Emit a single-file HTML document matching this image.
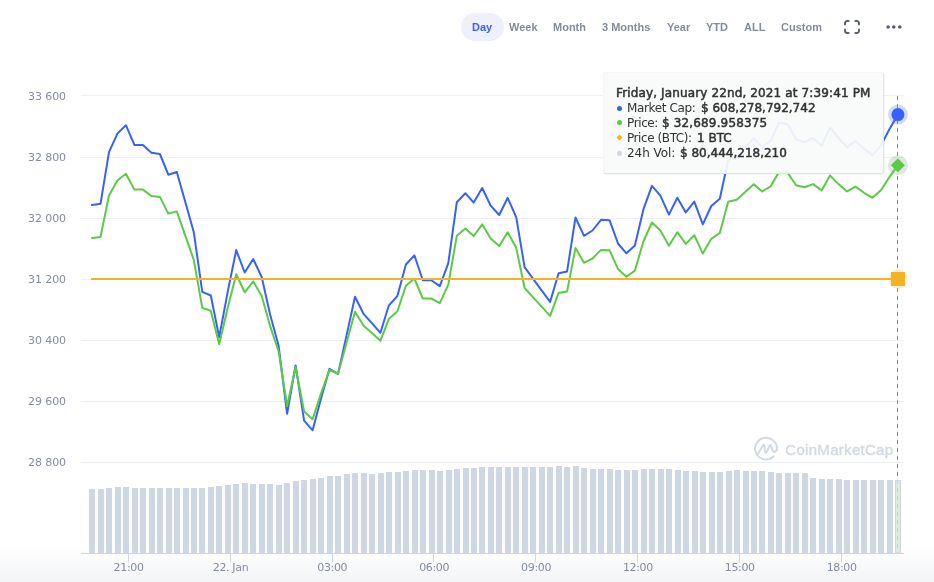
<!DOCTYPE html>
<html><head><meta charset="utf-8"><title>Chart</title>
<style>
html,body{margin:0;padding:0;background:#fff;}
body{width:934px;height:582px;position:relative;overflow:hidden;}
.btn,.tt,.chart{will-change:transform;}
.chart{position:absolute;left:0;top:0;}
.btn{position:absolute;top:19px;font-family:"Liberation Sans",Arial,sans-serif;font-weight:700;font-size:11px;line-height:16px;color:#848b9b;white-space:nowrap;}
.pill{position:absolute;left:461px;top:13px;width:43px;height:28px;border-radius:14px;background:#eef1fb;}
.tip{position:absolute;left:603px;top:72px;width:279px;height:100px;background:rgba(249,250,250,0.93);border:1px solid;border-color:#f4f5f4 #e0e7e2 #dce4de #f4f5f4;border-radius:3px;box-shadow:1px 1px 1px rgba(0,0,0,0.035);}
.tt{position:absolute;left:616px;font-family:"DejaVu Sans",sans-serif;font-size:12px;color:#333;white-space:nowrap;line-height:15px;}
.tt b{font-weight:400;font-family:"DejaVu Sans",sans-serif;-webkit-text-stroke:0.5px #333;}
.rg{letter-spacing:-0.25px;}
.dot{position:absolute;width:5px;height:5px;border-radius:50%;}
</style></head>
<body>
<svg class="chart" width="934" height="582" viewBox="0 0 934 582"><defs><linearGradient id="bg" x1="0" y1="0" x2="0" y2="1"><stop offset="0" stop-color="#ffffff"/><stop offset="1" stop-color="#f3f4f6"/></linearGradient></defs><rect x="0" y="545" width="934" height="37" fill="url(#bg)"/><g fill="#edf0f6"><rect x="81" y="95" width="823" height="1"/><rect x="81" y="157" width="823" height="1"/><rect x="81" y="218" width="823" height="1"/><rect x="81" y="279" width="823" height="1"/><rect x="81" y="340" width="823" height="1"/><rect x="81" y="401" width="823" height="1"/><rect x="81" y="462" width="823" height="1"/></g><g font-family="DejaVu Sans, sans-serif" font-size="11" fill="#858d9f" text-anchor="end" letter-spacing="-0.1"><text x="66" y="100.30">33 600</text><text x="66" y="161.47">32 800</text><text x="66" y="221.63">32 000</text><text x="66" y="282.80">31 200</text><text x="66" y="343.97">30 400</text><text x="66" y="405.13">29 600</text><text x="66" y="466.30">28 800</text></g><g fill="none" stroke="#d2d8e5" stroke-width="1.9" stroke-linecap="round" stroke-linejoin="round"><path d="M776.9 449.7 A10.9 10.9 0 1 0 773.6 456.5"/><path d="M757.6 454.4 L763.1 445.2 Q763.8 444 764.2 445.4 L765.1 452 Q765.5 453.6 766.4 452.2 L769.8 445.6 Q770.5 444.4 771 445.6 L772.6 450.6 Q773.6 452.8 775.4 451.6 L776.9 449.7"/></g><text x="785.3" y="454.8" font-family="Liberation Sans, sans-serif" font-weight="400" font-size="15" letter-spacing="0.3" fill="#d2d8e5" stroke="#d2d8e5" stroke-width="0.35">CoinMarketCap</text><line x1="897.5" y1="96" x2="897.5" y2="553" stroke="#8a91a3" stroke-width="1" stroke-dasharray="4,4"/><g fill="#cfd6e4"><rect x="89" y="489" width="6" height="64"/><rect x="98" y="489" width="6" height="64"/><rect x="106" y="488" width="6" height="65"/><rect x="115" y="487" width="6" height="66"/><rect x="123" y="487" width="6" height="66"/><rect x="132" y="488" width="6" height="65"/><rect x="140" y="488" width="6" height="65"/><rect x="149" y="488" width="6" height="65"/><rect x="157" y="488" width="6" height="65"/><rect x="166" y="488" width="6" height="65"/><rect x="174" y="488" width="6" height="65"/><rect x="183" y="488" width="6" height="65"/><rect x="191" y="488" width="6" height="65"/><rect x="199" y="488" width="6" height="65"/><rect x="208" y="487" width="6" height="66"/><rect x="216" y="486" width="6" height="67"/><rect x="225" y="485" width="6" height="68"/><rect x="233" y="484" width="6" height="69"/><rect x="242" y="483" width="6" height="70"/><rect x="250" y="484" width="6" height="69"/><rect x="259" y="484" width="6" height="69"/><rect x="267" y="484" width="6" height="69"/><rect x="276" y="485" width="6" height="68"/><rect x="284" y="483" width="6" height="70"/><rect x="293" y="481" width="6" height="72"/><rect x="301" y="480" width="6" height="73"/><rect x="310" y="479" width="6" height="74"/><rect x="318" y="478" width="6" height="75"/><rect x="327" y="476" width="6" height="77"/><rect x="335" y="476" width="6" height="77"/><rect x="344" y="474" width="6" height="79"/><rect x="352" y="473" width="6" height="80"/><rect x="361" y="473" width="6" height="80"/><rect x="369" y="474" width="6" height="79"/><rect x="378" y="473" width="6" height="80"/><rect x="386" y="472" width="6" height="81"/><rect x="395" y="472" width="6" height="81"/><rect x="403" y="471" width="6" height="82"/><rect x="412" y="470" width="6" height="83"/><rect x="420" y="470" width="6" height="83"/><rect x="429" y="470" width="6" height="83"/><rect x="437" y="471" width="6" height="82"/><rect x="446" y="470" width="6" height="83"/><rect x="454" y="469" width="6" height="84"/><rect x="463" y="468" width="6" height="85"/><rect x="471" y="468" width="6" height="85"/><rect x="479" y="467" width="6" height="86"/><rect x="488" y="467" width="6" height="86"/><rect x="496" y="467" width="6" height="86"/><rect x="505" y="467" width="6" height="86"/><rect x="513" y="467" width="6" height="86"/><rect x="522" y="467" width="6" height="86"/><rect x="530" y="467" width="6" height="86"/><rect x="539" y="467" width="6" height="86"/><rect x="547" y="467" width="6" height="86"/><rect x="556" y="466" width="6" height="87"/><rect x="564" y="467" width="6" height="86"/><rect x="573" y="466" width="6" height="87"/><rect x="581" y="468" width="6" height="85"/><rect x="590" y="469" width="6" height="84"/><rect x="598" y="469" width="6" height="84"/><rect x="607" y="469" width="6" height="84"/><rect x="615" y="470" width="6" height="83"/><rect x="624" y="470" width="6" height="83"/><rect x="632" y="470" width="6" height="83"/><rect x="641" y="469" width="6" height="84"/><rect x="649" y="469" width="6" height="84"/><rect x="658" y="469" width="6" height="84"/><rect x="666" y="469" width="6" height="84"/><rect x="675" y="470" width="6" height="83"/><rect x="683" y="471" width="6" height="82"/><rect x="692" y="471" width="6" height="82"/><rect x="700" y="472" width="6" height="81"/><rect x="709" y="472" width="6" height="81"/><rect x="717" y="472" width="6" height="81"/><rect x="726" y="471" width="6" height="82"/><rect x="734" y="470" width="6" height="83"/><rect x="743" y="471" width="6" height="82"/><rect x="751" y="471" width="6" height="82"/><rect x="759" y="471" width="6" height="82"/><rect x="768" y="472" width="6" height="81"/><rect x="776" y="473" width="6" height="80"/><rect x="785" y="473" width="6" height="80"/><rect x="793" y="473" width="6" height="80"/><rect x="802" y="473" width="6" height="80"/><rect x="810" y="478" width="6" height="75"/><rect x="819" y="479" width="6" height="74"/><rect x="827" y="479" width="6" height="74"/><rect x="836" y="479" width="6" height="74"/><rect x="844" y="480" width="6" height="73"/><rect x="853" y="480" width="6" height="73"/><rect x="861" y="480" width="6" height="73"/><rect x="870" y="480" width="6" height="73"/><rect x="878" y="480" width="6" height="73"/><rect x="887" y="480" width="6" height="73"/><rect x="895.5" y="480.5" width="5" height="72.5" fill="#d3e8d6" fill-opacity="0.8" stroke="#cfd6e4" stroke-width="1"/></g><rect x="81" y="553" width="823" height="1" fill="#cfd6e4"/><g fill="#cfd6e4"><rect x="128" y="553" width="1" height="9.5"/><rect x="230" y="553" width="1" height="9.5"/><rect x="332" y="553" width="1" height="9.5"/><rect x="433" y="553" width="1" height="9.5"/><rect x="535" y="553" width="1" height="9.5"/><rect x="637" y="553" width="1" height="9.5"/><rect x="739" y="553" width="1" height="9.5"/><rect x="841" y="553" width="1" height="9.5"/></g><g font-family="DejaVu Sans, sans-serif" font-size="11" fill="#858d9f" text-anchor="middle" letter-spacing="-0.35"><text x="128.60000000000002" y="571">21:00</text><text x="230.5" y="571">22. Jan</text><text x="332.3" y="571">03:00</text><text x="434.2" y="571">06:00</text><text x="536.0999999999999" y="571">09:00</text><text x="637.9" y="571">12:00</text><text x="739.8" y="571">15:00</text><text x="841.6999999999999" y="571">18:00</text></g><path d="M92.0 205.0 L100.5 203.8 L109.0 152.1 L117.4 133.6 L125.9 125.2 L134.4 144.9 L142.9 144.9 L151.4 152.8 L159.9 154.0 L168.3 174.7 L176.8 172.0 L185.3 202.1 L193.8 232.3 L202.3 291.9 L210.8 295.5 L219.2 337.2 L227.7 291.9 L236.2 250.1 L244.7 272.5 L253.2 259.0 L261.7 277.0 L270.1 314.5 L278.6 345.8 L287.1 413.8 L295.6 365.4 L304.1 420.6 L312.6 430.3 L321.0 398.5 L329.5 368.8 L338.0 373.9 L346.5 335.6 L355.0 296.8 L363.5 313.8 L371.9 323.2 L380.4 332.8 L388.9 305.3 L397.4 296.0 L405.9 264.5 L414.4 255.4 L422.8 280.2 L431.3 280.2 L439.8 286.1 L448.3 263.1 L456.8 202.3 L465.3 193.2 L473.7 202.6 L482.2 188.0 L490.7 205.7 L499.2 215.0 L507.7 197.8 L516.2 217.2 L524.6 267.2 L533.1 278.9 L541.6 290.4 L550.1 301.9 L558.6 273.3 L567.1 271.4 L575.5 217.5 L584.0 235.8 L592.5 230.5 L601.0 219.8 L609.5 220.2 L618.0 243.5 L626.4 253.3 L634.9 245.6 L643.4 209.4 L651.9 185.8 L660.4 195.7 L668.9 214.6 L677.3 197.8 L685.8 212.4 L694.3 201.6 L702.8 224.4 L711.3 206.0 L719.8 198.8 L728.2 160.0 L736.7 157.6 L745.2 147.8 L753.7 138.2 L762.2 147.2 L770.7 140.8 L779.1 122.6 L787.6 124.0 L796.1 139.4 L804.6 142.0 L813.1 138.0 L821.6 145.9 L830.0 127.4 L838.5 138.0 L847.0 147.1 L855.5 141.1 L864.0 148.8 L872.5 155.1 L880.9 145.6 L889.4 129.3 L897.9 114.5" fill="none" stroke="#3861fb" stroke-width="2" stroke-linejoin="round" stroke-linecap="round"/><path d="M92.0 238.0 L100.5 237.0 L109.0 195.4 L117.4 180.5 L125.9 173.8 L134.4 189.6 L142.9 189.6 L151.4 196.0 L159.9 196.9 L168.3 213.6 L176.8 211.4 L185.3 235.6 L193.8 259.9 L202.3 307.9 L210.8 310.8 L219.2 344.3 L227.7 307.9 L236.2 274.3 L244.7 292.3 L253.2 281.4 L261.7 295.9 L270.1 326.1 L278.6 351.2 L287.1 406.0 L295.6 367.0 L304.1 411.4 L312.6 419.2 L321.0 393.6 L329.5 369.8 L338.0 373.9 L346.5 343.0 L355.0 311.8 L363.5 325.5 L371.9 333.1 L380.4 340.8 L388.9 318.7 L397.4 311.2 L405.9 285.8 L414.4 278.5 L422.8 298.5 L431.3 298.5 L439.8 303.2 L448.3 284.7 L456.8 235.8 L465.3 228.5 L473.7 236.0 L482.2 224.3 L490.7 238.5 L499.2 246.0 L507.7 232.2 L516.2 247.8 L524.6 288.0 L533.1 297.4 L541.6 306.7 L550.1 315.9 L558.6 292.9 L567.1 291.4 L575.5 248.0 L584.0 262.8 L592.5 258.5 L601.0 249.9 L609.5 250.2 L618.0 268.9 L626.4 276.8 L634.9 270.6 L643.4 241.5 L651.9 222.5 L660.4 230.5 L668.9 245.7 L677.3 232.2 L685.8 243.9 L694.3 235.2 L702.8 253.6 L711.3 238.8 L719.8 233.0 L728.2 201.8 L736.7 199.8 L745.2 192.0 L753.7 184.2 L762.2 191.5 L770.7 186.3 L779.1 171.7 L787.6 172.8 L796.1 185.2 L804.6 187.3 L813.1 184.1 L821.6 190.4 L830.0 175.5 L838.5 184.1 L847.0 191.4 L855.5 186.6 L864.0 192.8 L872.5 197.8 L880.9 190.2 L889.4 177.1 L897.9 165.2" fill="none" stroke="#5dca47" stroke-width="2" stroke-linejoin="round" stroke-linecap="round"/><line x1="91" y1="279" x2="898" y2="279" stroke="#f4b325" stroke-width="2"/><circle cx="897.9" cy="114.6" r="10" fill="#3861fb" fill-opacity="0.22"/><circle cx="897.9" cy="114.6" r="6.5" fill="#3861fb"/><circle cx="897.9" cy="165.3" r="10" fill="#8fb58a" fill-opacity="0.3"/><path d="M897.9 158.3 L904.9 165.3 L897.9 172.3 L890.9 165.3 Z" fill="#5dca47"/><circle cx="898" cy="279" r="10" fill="#f4b325" fill-opacity="0.22"/><rect x="891" y="272" width="14" height="14" fill="#f4b325"/></svg>
<div class="pill"></div>
<span class="btn" style="left:472px;color:#3861fb">Day</span>
<span class="btn" style="left:508.5px">Week</span>
<span class="btn" style="left:553px">Month</span>
<span class="btn" style="left:602px">3 Months</span>
<span class="btn" style="left:666.5px">Year</span>
<span class="btn" style="left:705.5px">YTD</span>
<span class="btn" style="left:743.5px">ALL</span>
<span class="btn" style="left:781px">Custom</span>
<svg style="position:absolute;left:843px;top:19px" width="18" height="16" viewBox="0 0 18 16"><g fill="none" stroke="#575e6c" stroke-width="1.9" stroke-linecap="round" stroke-linejoin="round"><path d="M2 5.6V4.2a2.2 2.2 0 0 1 2.2-2.2H5.6"/><path d="M12.4 2h1.4a2.2 2.2 0 0 1 2.2 2.2v1.4"/><path d="M16 10.4v1.4a2.2 2.2 0 0 1-2.2 2.2h-1.4"/><path d="M5.6 14H4.2A2.2 2.2 0 0 1 2 11.8v-1.4"/></g></svg>
<svg style="position:absolute;left:884px;top:23px" width="20" height="8" viewBox="0 0 20 8"><g fill="#575e6c"><circle cx="4.1" cy="4" r="1.8"/><circle cx="9.8" cy="4" r="1.8"/><circle cx="15.8" cy="4" r="1.8"/></g></svg>
<div class="tip"></div>
<div class="tt" style="top:86px;letter-spacing:0.13px"><b>Friday, January 22nd, 2021 at 7:39:41 PM</b></div>
<div class="tt" style="top:101px;left:627px"><span style="letter-spacing:-0.36px">Market Cap:</span></div><div class="tt" style="top:101px;left:700.6px"><b>$ 608,278,792,742</b></div>
<div class="tt" style="top:116px;left:627px"><span style="letter-spacing:-0.38px">Price:</span></div><div class="tt" style="top:116px;left:661.5px;letter-spacing:0.15px"><b>$ 32,689.958375</b></div>
<div class="tt" style="top:131px;left:627px"><span style="letter-spacing:-0.42px">Price (BTC):</span></div><div class="tt" style="top:131px;left:696.6px"><b>1 BTC</b></div>
<div class="tt" style="top:146px;left:627px"><span style="letter-spacing:-0.05px">24h Vol:</span></div><div class="tt" style="top:146px;left:679.9px"><b>$ 80,444,218,210</b></div>
<div class="dot" style="left:617px;top:105.5px;background:#3861fb"></div>
<div class="dot" style="left:617px;top:120px;background:#5dca47"></div>
<div class="dot" style="left:617px;top:135px;background:#f4b325;border-radius:0;transform:rotate(45deg) scale(0.85)"></div>
<div class="dot" style="left:617px;top:150.5px;background:#cfd6e4"></div>
</body></html>
